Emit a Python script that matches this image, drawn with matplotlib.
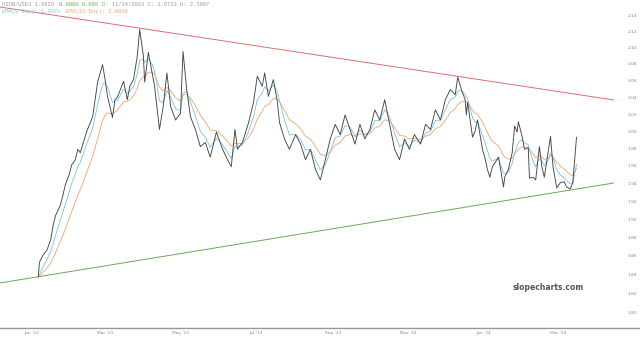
import numpy as np
import pandas as pd
import matplotlib
matplotlib.use("Agg")
import matplotlib.pyplot as plt
from matplotlib.lines import Line2D

# jours depuis le 1er janvier 2023 et cours
day_offset = [5, 6, 9, 12, 15, 17, 19, 23, 25, 27, 30, 32, 35, 37, 39, 44, 49, 53, 57, 59,
              61, 65, 67, 69, 74, 77, 79, 82, 85, 87, 90, 91, 94, 97, 99, 103, 106, 109, 112, 116,
              120, 122, 125, 128, 132, 136, 140, 144, 149, 154, 158, 161, 164, 166, 170, 175, 179, 182, 186, 188,
              191, 195, 198, 200, 204, 208, 213, 217, 221, 225, 229, 233, 237, 241, 245, 249, 253, 257, 261, 265,
              269, 273, 277, 281, 285, 289, 293, 297, 301, 305, 309, 314, 318, 322, 326, 330, 334, 338, 342, 344,
              347, 350, 351, 352, 356, 358, 360, 364, 366, 368, 370, 372, 377, 381, 382, 385, 388, 390, 392, 393,
              396, 398, 401, 402, 405, 407, 410, 412, 414, 417, 419, 421, 424, 427, 430, 432, 435, 437, 440]
close = [1.837, 1.853, 1.861, 1.866, 1.877, 1.893, 1.904, 1.916, 1.927, 1.939, 1.950, 1.961, 1.967, 1.979, 1.975, 1.999, 2.017, 2.058, 2.079, 2.061,
         2.041, 2.016, 2.037, 2.040, 2.059, 2.037, 2.053, 2.061, 2.089, 2.122, 2.089, 2.058, 2.094, 2.069, 2.053, 2.002, 2.029, 2.069, 2.029, 2.013,
         2.021, 2.095, 2.049, 2.017, 2.002, 1.982, 1.987, 1.970, 1.999, 1.979, 1.967, 1.959, 2.002, 1.979, 1.987, 2.010, 2.034, 2.065, 2.053, 2.069,
         2.041, 2.061, 2.037, 2.010, 1.991, 1.979, 1.996, 1.985, 1.967, 1.979, 1.956, 1.944, 1.967, 1.991, 2.008, 1.996, 2.019, 2.002, 1.985, 2.008,
         1.991, 2.002, 2.025, 2.013, 2.037, 2.008, 1.979, 1.967, 1.991, 1.979, 1.996, 1.985, 2.008, 2.002, 2.025, 2.013, 2.037, 2.049, 2.043, 2.064,
         2.049, 2.037, 2.019, 2.034, 1.993, 2.000, 2.013, 1.979, 1.969, 1.956, 1.947, 1.959, 1.970, 1.936, 1.947, 1.956, 1.975, 2.006, 1.999, 2.011,
         1.994, 1.979, 1.981, 1.946, 1.947, 1.944, 1.982, 1.959, 1.947, 1.975, 1.994, 1.959, 1.935, 1.941, 1.942, 1.936, 1.934, 1.941, 1.993]

# droites de tendance (début / fin)
trend_days = [-26, 470]
red_trend = [2.150, 2.0367]
green_trend = [1.8307, 1.9405]

y_ticks = [2.14, 2.12, 2.10, 2.08, 2.06, 2.04, 2.02, 2.00, 1.98, 1.96, 1.94, 1.92, 1.90, 1.88, 1.86, 1.84, 1.82, 1.80]
x_ticks = ['2023-01-01', '2023-03-01', '2023-05-01', '2023-07-01', '2023-09-01', '2023-11-01', '2024-01-01', '2024-03-01']

t0 = pd.Timestamp('2023-01-01')
dates = t0 + pd.to_timedelta(day_offset, unit='D')


def ema(values, days, halflife):
    # EMA récursive, pas irrégulier -> alpha selon l'écart en jours
    out = [values[0]]
    for i in range(1, len(values)):
        a = 1 - 0.5 ** ((days[i] - days[i-1]) / halflife)
        out.append(out[-1] + a * (values[i] - out[-1]))
    return out

# EMA 8 et 21 jours de bourse, demi-vie en jours calendaires
ema_fast = ema(close, day_offset, 3.9)
ema_slow = ema(close, day_offset, 10.2)
tdates = t0 + pd.to_timedelta(trend_days, unit='D')

fig = plt.figure(figsize=(6.4, 3.43), dpi=100)
ax = fig.add_axes([0, 14/343, 614/640, 329/343])
ax.plot(tdates, red_trend, color='#e06c6c', lw=0.7)
ax.plot(tdates, green_trend, color='#6aaa55', lw=0.7)
ax.plot(dates, ema_slow, color='#f5a366', lw=0.6)
ax.plot(dates, ema_fast, color='#74c4e6', lw=0.6)
ax.plot(dates, close, color='#454545', lw=0.65)

ax.set_yscale('log')
ax.set_ylim(1.7823, 2.1588)
ax.set_xlim(t0 + pd.Timedelta(days=-25.9), t0 + pd.Timedelta(days=470.3))
ax.yaxis.set_minor_locator(matplotlib.ticker.NullLocator())
ax.set_yticks(y_ticks)
ax.set_yticklabels(['%.2f' % v for v in y_ticks])
ax.yaxis.tick_right()
ax.tick_params(axis='y', length=0, pad=9.5, labelsize=3.2, labelcolor='#888888')
xt = pd.to_datetime(x_ticks)
ax.set_xticks(xt)
ax.set_xticklabels([d.strftime("%b '%y") for d in xt])
ax.xaxis.set_minor_locator(matplotlib.ticker.NullLocator())
ax.tick_params(axis='x', length=0, pad=1.5, labelsize=3.2, labelcolor='#888888')
for sp in ax.spines.values():
    sp.set_visible(False)

fig.add_artist(Line2D([0, 1], [15/343, 15/343], color='#999999', lw=1))

# en-tête
hf = dict(family='Liberation Mono', fontsize=4, va='center', transform=fig.transFigure)
fig.text(2/640, 1 - 5/343, "USDN/USDJ 1.9929", color='#999999', **hf)
fig.text(59/640, 1 - 5/343, "0.0000 0.00%", color='#6ab04c', **hf)
fig.text(102/640, 1 - 5/343, "D: 11/24/2023 C: 1.9713 H: 2.1097", color='#999999', **hf)
fig.text(2/640, 1 - 12/343, "EMA(8 Day): 1.997x", color='#74c4e6', **hf)
fig.text(66/640, 1 - 12/343, "EMA(21 Day): 2.0016", color='#f5a366', **hf)

fig.text(548/640, 1 - 288/343, "slopecharts.com", fontsize=5.5, fontweight='bold',
         color='#555555', ha='center', va='center')

fig.savefig('out.png', dpi=100)
